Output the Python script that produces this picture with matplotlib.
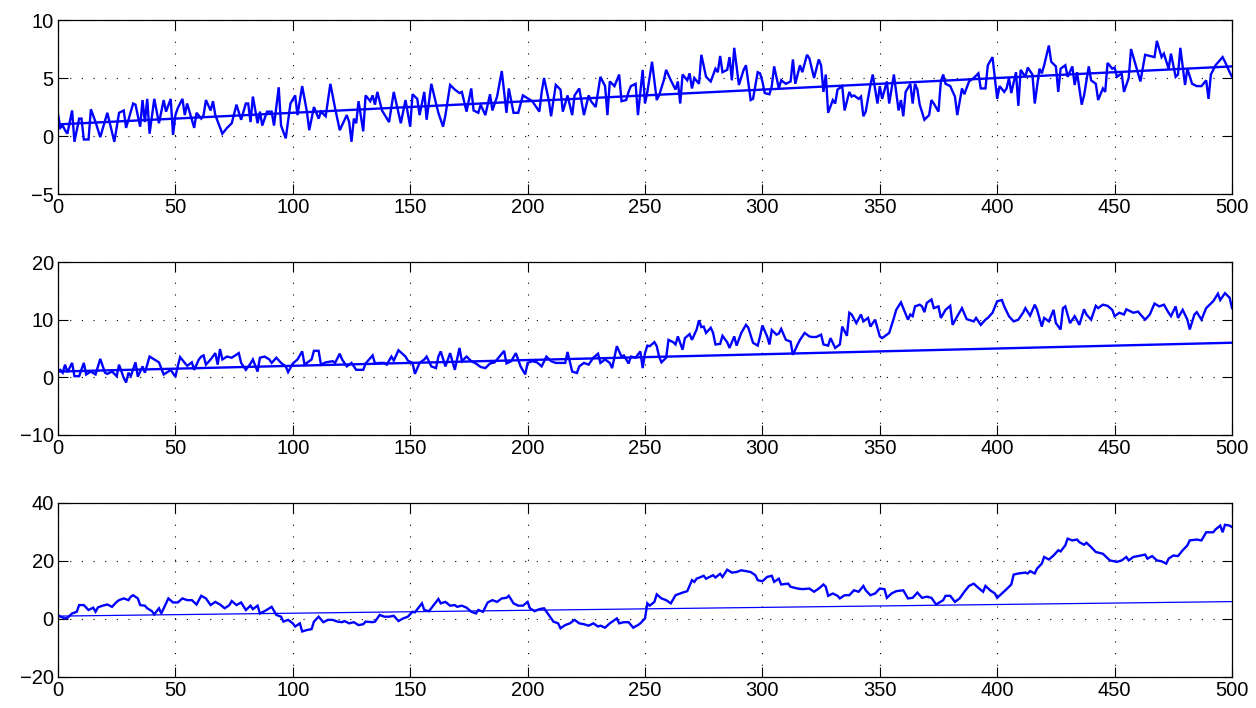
import matplotlib
matplotlib.use("Agg")
import matplotlib.pyplot as plt
import numpy as np

plt.rcParams['font.family'] = ['Liberation Sans', 'DejaVu Sans']

# ---------------- data ----------------
trend_x = [0, 500]
trend_y = [1, 6]

p1 = """0 1.9;1 0.7;2 0.9;3 0.5;4 0.2;6 2.2;7 -0.5;9 1.5;10 1.5;11 -0.3;13 -0.3;14 2.3;16 1.2;18 -0.1;21 2.0;24 -0.5;
26 2.0;28 2.2;29 0.7;32 2.8;33 2.7;35 0.8;36 3.1;37 1.2;38 3.2;39 0.2;41 3.2;43 1.1;45 3.1;46 2.1;48 3.2;49 0.1;
50 1.8;51 2.4;53 3.2;54 1.8;55 2.8;56 2.1;58 0.7;59 2.0;61 1.5;62 1.8;63 3.1;65 2.2;66 3.0;67 1.8;70 0.2;72 0.7;
74 1.1;76 2.7;78 1.4;80 2.8;81 2.8;82 1.2;83 3.4;85 1.1;86 2.1;87 0.9;89 2.1;91 2.1;92 0.9;94 4.2;95 0.9;97 -0.2;
99 2.8;101 3.5;102 1.8;104 4.3;106 2.1;107 0.5;109 2.5;111 1.5;112 2.1;114 1.7;116 4.5;118 2.4;120 0.5;123 1.8;
124 1.2;125 -0.5;126 1.5;127 1.1;128 3.0;130 0.4;131 3.5;133 3.0;134 3.5;135 2.7;136 3.8;138 2.2;141 1.2;143 3.8;
146 1.1;148 3.1;150 0.8;151 3.6;153 3.2;154 1.8;156 3.8;157 1.4;159 4.5;161 2.8;162 2.0;164 0.8;165 1.8;167 4.4;
169 4.0;171 3.7;172 3.8;174 2.1;176 4.1;177 2.2;179 2.0;180 2.7;182 1.8;184 3.6;185 2.2;187 3.4;189 5.6;191 2.0;
192 4.1;194 2.0;196 2.0;198 3.5;202 3.0;203 2.7;205 2.1;206 3.8;207 5.0;209 3.1;210 1.7;212 4.4;214 4.0;215 2.1;
217 3.5;219 1.8;220 3.5;222 4.1;224 1.8;226 3.5;227 3.0;229 2.5;231 5.1;233 4.3;234 1.8;235 4.7;237 4.3;239 5.3;
240 3.0;242 3.1;243 3.8;244 4.3;246 4.5;247 1.8;249 5.7;250 2.8;251 3.8;253 6.4;255 3.1;256 3.5;258 4.8;259 5.7;
261 4.8;263 4.0;264 4.7;265 2.8;266 5.3;268 4.8;269 5.4;270 4.1;271 5.0;273 4.5;274 7.0;276 5.1;278 4.7;280 5.8;
281 5.5;282 6.9;283 5.5;285 5.7;286 6.8;287 4.8;288 7.6;290 4.4;292 5.7;293 6.1;295 3.1;296 3.2;298 5.5;299 5.4;
300 4.7;301 3.7;303 3.6;304 4.3;305 6.0;307 4.1;308 4.8;310 4.5;312 4.7;313 6.6;314 4.5;316 6.1;317 5.5;319 7.0;
320 6.7;322 5.0;324 6.6;325 6.1;326 3.8;327 5.3;328 2.0;330 3.1;331 2.8;332 4.0;334 4.3;335 2.2;337 3.8;338 3.4;
339 3.5;341 3.2;342 3.4;343 1.7;344 2.1;346 4.4;347 5.3;349 2.8;350 4.3;351 3.2;353 4.7;354 2.8;356 5.3;358 2.2;
359 3.1;360 1.7;361 3.8;363 4.5;364 2.8;365 4.5;366 4.0;367 2.7;369 1.4;371 1.8;372 3.1;373 2.8;375 2.1;376 4.7;
377 5.3;378 4.5;380 4.3;382 3.4;383 1.8;385 4.1;386 3.6;388 4.7;390 5.0;392 5.4;393 4.1;395 4.1;396 6.1;398 6.8;
400 3.2;401 4.3;403 3.8;404 4.1;405 5.0;406 3.7;408 5.5;409 2.6;410 5.7;412 5.1;413 5.9;415 5.3;416 2.8;418 5.8;
419 5.4;420 6.1;422 7.8;423 6.4;425 6.0;426 3.8;427 5.8;429 6.1;430 5.1;432 6.0;433 4.4;434 5.5;436 2.7;437 3.5;
439 6.0;440 4.8;442 4.5;443 3.1;445 4.1;446 3.8;447 6.3;449 5.8;450 5.9;451 5.1;453 5.4;454 3.8;456 5.0;457 7.5;
459 6.1;461 4.7;463 7.0;465 6.9;467 6.8;468 8.2;470 6.8;471 7.1;473 5.8;474 7.1;476 5.1;477 5.3;478 7.6;480 4.4;
481 5.8;483 4.5;485 4.3;487 4.3;489 4.8;490 3.2;491 5.3;493 6.1;496 6.8;497 6.4;499 5.5;500 5.1"""

p2 = """0 1.0;1 1.3;2 0.8;3 2.2;4 0.9;6 2.5;7 0.2;9 0.2;11 2.5;12 0.5;14 1.0;16 0.5;18 3.2;20 0.8;21 0.6;23 1.0;25 0.2;
26 2.2;28 -0.1;29 -0.9;30 0.8;31 0.2;33 2.6;34 0.1;36 1.9;37 0.8;39 3.6;41 3.1;43 2.6;45 0.5;47 1.0;48 1.3;50 0.1;
51 1.9;52 3.5;54 2.5;55 2.0;57 2.6;58 1.3;60 3.1;61 3.6;62 3.8;63 2.2;65 3.1;67 4.2;68 2.2;69 4.9;70 3.1;72 3.6;
74 3.4;77 4.2;78 2.5;80 1.3;82 2.4;83 3.1;85 1.0;86 3.4;88 3.6;90 3.1;91 2.5;93 3.4;95 2.5;97 1.9;98 0.9;100 2.4;
102 3.1;104 4.5;105 2.2;108 3.1;109 4.6;111 4.6;112 2.2;114 2.6;117 2.8;118 2.5;120 4.1;121 3.1;123 1.9;125 2.5;
127 1.3;130 1.3;131 2.4;134 3.8;135 2.4;137 2.5;139 2.5;140 2.2;142 3.6;143 2.9;145 4.7;148 3.6;149 2.9;151 2.5;
152 0.6;154 2.5;156 3.1;157 3.6;159 1.9;161 1.6;162 3.6;163 4.5;165 1.9;167 4.2;169 1.3;171 5.1;172 2.8;174 3.6;
176 2.8;178 2.4;180 1.8;182 1.6;184 2.4;186 2.6;188 3.6;190 4.6;191 2.4;193 2.8;195 4.2;197 1.9;199 0.5;200 2.5;
202 2.8;204 2.6;206 1.9;208 3.6;210 2.8;212 2.5;214 2.5;216 2.5;217 4.4;219 1.0;221 0.75;222 1.9;224 2.5;226 2.2;
228 3.4;230 4.1;231 2.5;233 3.1;235 2.5;236 1.6;238 5.4;240 3.6;241 3.8;243 2.4;244 3.6;246 3.4;248 4.5;249 1.6;
250 4.2;251 5.5;252 5.4;254 6.1;255 5.4;256 3.6;257 2.6;259 3.4;260 6.5;262 6.1;263 5.7;264 7.1;266 4.8;267 6.8;
269 7.5;270 6.5;272 8.3;273 9.9;274 8.7;275 8.8;276 7.7;278 8.6;279 7.7;280 5.7;282 5.8;283 7.2;285 6.1;286 5.1;
288 7.1;289 5.5;291 7.7;293 9.1;294 8.6;296 6.0;298 5.5;299 7.1;300 9.0;302 7.1;303 5.7;304 8.2;306 7.4;307 7.6;
308 8.4;310 6.5;312 6.2;313 3.9;315 5.7;316 6.5;318 7.7;320 7.1;321 7.0;323 7.0;325 7.4;326 5.7;328 5.5;329 6.8;
331 5.1;333 5.7;334 8.8;336 7.2;337 11.2;338 10.9;340 9.4;342 10.9;343 9.7;345 10.3;346 8.8;348 10.0;350 7.1;
351 6.8;353 7.4;354 7.7;356 10.3;357 11.7;359 13.0;360 12.0;362 10.0;363 10.9;364 10.6;365 12.3;367 12.6;368 12.3;
369 11.3;370 12.9;372 13.5;373 12.0;375 12.3;376 10.3;378 11.7;380 12.4;381 9.1;383 10.6;385 12.0;387 10.1;390 9.7;
391 10.3;393 9.1;395 10.0;396 10.3;398 11.2;400 13.2;402 13.4;403 12.3;405 10.6;407 9.7;409 10.0;411 11.2;412 12.0;
414 10.7;416 12.6;417 11.7;419 8.8;420 10.3;422 9.7;424 11.7;425 9.4;427 8.3;428 12.0;429 12.3;431 9.4;433 10.6;
435 9.1;437 11.8;438 10.9;440 10.0;442 12.4;443 12.0;445 12.6;447 12.4;449 11.7;450 10.6;452 11.2;454 10.9;455 11.8;
458 11.2;460 11.4;461 10.9;463 10.0;465 10.9;467 12.8;469 12.3;471 12.6;473 11.2;474 10.6;476 12.3;477 10.3;479 11.7;
481 10.0;482 8.3;484 10.9;485 11.3;487 10.0;489 12.0;491 12.8;492 13.2;494 14.5;495 13.4;497 14.6;499 13.8;500 12.0"""

p3 = """0 1.4;1 0.8;3 0.2;4 0.4;6 1.9;8 2.5;9 4.8;11 4.8;13 3.1;15 3.9;16 2.5;17 4.0;19 4.6;21 5.0;23 4.2;25 5.9;26 6.5;
28 7.1;30 6.5;31 7.7;32 8.2;34 7.1;35 4.8;37 4.6;38 3.7;40 2.7;41 1.6;43 3.7;44 1.9;47 7.1;49 5.7;51 5.7;53 7.1;
55 6.5;57 6.5;59 5.0;61 8.0;63 7.1;65 4.8;67 5.9;69 5.0;71 3.7;73 4.8;74 6.2;76 4.8;78 5.7;80 3.1;82 4.6;83 3.4;
85 4.6;86 1.9;88 2.7;90 3.7;91 4.2;93 1.4;95 0.8;96 -0.9;98 -0.3;100 -1.5;101 -2.6;103 -1.5;104 -4.3;106 -3.8;
108 -3.5;109 -0.9;111 0.8;113 -1.1;115 -0.3;117 -0.3;119 -0.9;121 -1.1;122 -0.7;124 -1.5;126 -1.1;128 -2.1;
130 -1.8;131 -0.9;134 -1.1;135 -0.9;137 1.4;139 0.8;141 0.8;143 1.1;145 -0.7;147 0.2;149 0.8;151 2.5;152 2.3;
155 5.4;156 3.1;158 2.7;160 4.8;162 6.9;163 5.4;165 5.9;167 4.6;169 4.8;170 4.2;172 4.6;174 3.9;176 2.5;178 1.9;
179 3.1;181 2.5;183 5.7;185 6.5;187 5.9;189 7.1;191 7.3;192 8.0;194 5.4;196 4.6;198 4.6;200 5.9;201 3.7;203 2.7;
205 3.4;207 3.7;209 1.4;211 -0.9;213 -1.5;214 -3.2;216 -2.1;218 -1.5;220 -0.3;222 -1.5;224 -1.8;226 -2.3;228 -1.5;
230 -2.6;231 -2.3;233 -3.0;235 -1.5;238 0.2;239 -1.5;241 -1.1;243 -1.1;245 -3.0;247 -2.1;248 -1.5;250 0.2;251 5.4;
252 4.6;254 5.9;255 8.5;257 7.1;259 6.5;261 5.4;263 8.2;266 9.1;268 9.6;270 13.4;271 12.8;272 13.9;275 14.9;
276 13.9;279 15.1;280 14.3;282 15.6;283 14.5;285 17.0;287 16.0;289 16.2;291 16.8;293 16.5;295 16.2;297 15.1;
298 13.4;300 13.0;302 14.5;304 14.9;305 12.8;307 13.9;308 11.9;311 12.2;312 11.1;315 10.5;317 10.3;320 10.5;
322 9.4;324 10.5;326 11.9;327 11.1;328 8.0;330 8.8;332 8.0;333 7.1;335 8.2;337 8.2;339 9.9;341 9.4;343 11.4;
344 9.9;346 8.2;348 8.8;350 10.5;352 10.3;353 7.3;355 8.8;357 9.6;360 9.9;362 7.1;364 7.3;366 9.1;368 7.3;
370 7.7;372 7.3;374 5.0;377 6.5;378 8.0;380 8.0;382 5.9;384 7.1;386 9.4;388 11.4;390 12.2;392 10.7;394 9.4;
395 11.4;397 9.9;399 8.8;400 7.3;402 8.8;404 10.3;406 11.9;407 15.3;409 15.7;412 16.0;413 15.7;414 16.5;416 15.7;
417 17.4;419 19.1;420 21.4;422 20.5;424 21.9;426 23.7;427 23.3;429 25.4;430 27.7;432 27.1;434 27.4;435 26.5;
437 25.6;438 26.3;440 24.8;442 23.1;445 22.5;447 21.0;448 20.2;451 19.7;453 20.2;455 21.4;456 20.2;458 21.4;
460 21.7;463 22.2;464 20.8;466 21.7;468 20.2;470 19.9;472 19.1;473 20.8;475 21.9;477 21.7;479 23.7;481 25.4;
482 27.1;485 27.4;487 27.1;489 29.9;492 29.9;493 30.9;495 32.2;496 29.9;497 32.5;499 32.2;500 31.7"""


def parse(s):
    pairs = [t.split() for t in s.replace("\n", "").split(";") if t.strip()]
    return [float(a) for a, b in pairs], [float(b) for a, b in pairs]


x1, y1 = parse(p1)
x2, y2 = parse(p2)
x3, y3 = parse(p3)

xticks = list(range(0, 501, 50))
yticks1 = [-5, 0, 5, 10]
yticks2 = [-10, 0, 10, 20]
yticks3 = [-20, 0, 20, 40]

# ---------------- figure ----------------
fig = plt.figure(figsize=(12.56, 7.08), dpi=100)
L, W = 58 / 1256, (1232 - 58) / 1256
rects = [(20, 194), (262, 435), (503, 677)]
panels = [(x1, y1, yticks1, 1.7), (x2, y2, yticks2, 1.7), (x3, y3, yticks3, 0.9)]
blue = (0, 0, 1)

for (top, bot), (xs, ys, yt, tw) in zip(rects, panels):
    ax = fig.add_axes([L, 1 - bot / 708, W, (bot - top) / 708])
    ax.plot(xs, ys, color=blue, lw=1.7, solid_joinstyle='miter')
    ax.plot(trend_x, trend_y, color=blue, lw=tw)
    ax.set_xlim(0, 500)
    ax.set_ylim(yt[0], yt[-1])
    ax.set_xticks(xticks)
    ax.set_yticks(yt)
    ax.grid(True, color='black', linestyle=(0, (1, 9.5)), linewidth=0.8)
    ax.tick_params(direction='in', top=True, right=True, length=7,
                   labelsize=14.5, width=0.8, pad=3)
    for s in ax.spines.values():
        s.set_linewidth(0.9)

fig.savefig("out.png", dpi=100)
